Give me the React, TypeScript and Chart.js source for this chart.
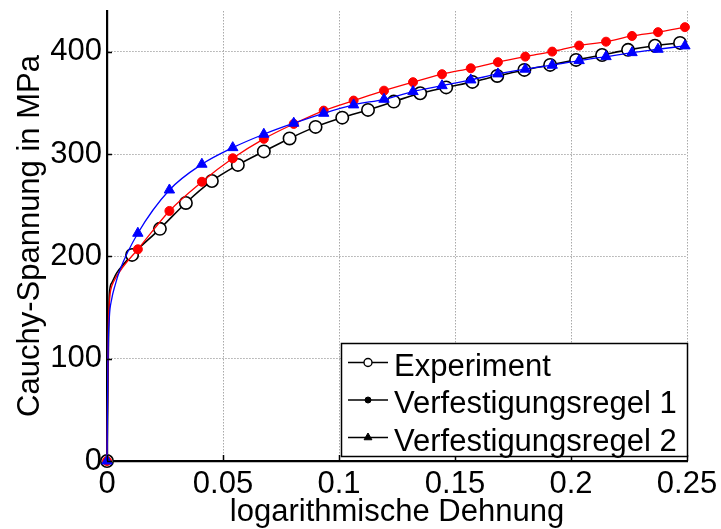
import { useEffect, useRef } from "react";
import { Chart, registerables } from "chart.js";

Chart.register(...registerables);

// Axis ticks
const strainTicks = [0, 0.05, 0.1, 0.15, 0.2, 0.25];
const stressTicks = [0, 100, 200, 300, 400];

// Experiment: marked measurement points (log. strain, Cauchy stress in MPa)
const expStrain = [0, 0.0108, 0.0228, 0.034, 0.0452, 0.0564, 0.0676, 0.0787, 0.0899, 0.1014, 0.1125, 0.1236, 0.135, 0.1462, 0.1575, 0.1682, 0.1799, 0.191, 0.2022, 0.2134, 0.2246, 0.2362, 0.247];
const expStress = [0, 201.5, 227, 252.3, 273.8, 289.5, 302.7, 315.4, 326.7, 335.7, 343.3, 351.4, 359.6, 365.3, 370.7, 376.5, 382.4, 387.3, 392.2, 397, 402, 406, 408.8];
// Experiment: yield transition (curve only, no markers)
const expKneeStrain = [0.0006, 0.001, 0.002, 0.0042, 0.007];
const expKneeStress = [110, 162, 174, 184, 192];

// Simulations share the same output increments
const simStrain = [0, 0.0133, 0.0269, 0.0409, 0.0542, 0.0676, 0.0805, 0.0934, 0.1063, 0.1194, 0.1319, 0.1444, 0.1568, 0.1685, 0.1803, 0.1919, 0.2035, 0.2151, 0.2263, 0.2375, 0.2491];
const rule1Stress = [0, 207, 244.5, 273, 296, 315, 329.6, 342.6, 352.4, 362.1, 370.4, 378.2, 384, 390, 395.4, 400.3, 406.2, 410, 415.6, 419.3, 424.2];
const rule2Stress = [0, 222.7, 265, 290.2, 306.4, 319.5, 330.3, 340, 348.2, 353.7, 361.2, 367, 372.6, 378.5, 383.1, 387, 391.5, 395.4, 399.3, 402.6, 405.9];
const rule1KneeStrain = [0.0005, 0.0012, 0.0016, 0.003, 0.007];
const rule1KneeStress = [120, 160, 167, 176, 190];
const rule2KneeStrain = [0.0004, 0.001, 0.002, 0.0035, 0.0056];
const rule2KneeStress = [100, 140, 158, 172, 187];

const seriesNames = ["Experiment", "Verfestigungsregel 1", "Verfestigungsregel 2"];

const FONT = '"Liberation Sans", Arial, Helvetica, sans-serif';
const FONT_SIZE = 31;

function buildSeries(mx: number[], my: number[], kx: number[], ky: number[]) {
  const pts = [
    ...mx.map((x, i) => ({ x, y: my[i], m: true })),
    ...kx.map((x, i) => ({ x, y: ky[i], m: false })),
  ];
  pts.sort((a, b) => a.x - b.x);
  return pts;
}

const styles = [
  { color: "#000000", fill: "#ffffff", style: "circle", radius: 6.2, border: 1.6, line: 1.6, legendR: 4 },
  { color: "#ff0000", fill: "#ff0000", style: "circle", radius: 4.5, border: 1, line: 1.3, legendR: 3 },
  { color: "#0000ff", fill: "#0000ff", style: "triangle", radius: 6, border: 1, line: 1.3, legendR: 4.5 },
];

function drawMarker(ctx: CanvasRenderingContext2D, s: any, x: number, y: number, r: number) {
  ctx.save();
  ctx.fillStyle = s.fill;
  ctx.strokeStyle = s.color;
  ctx.lineWidth = s.style === "circle" && s.fill === "#ffffff" ? 1.4 : 1;
  ctx.beginPath();
  if (s.style === "circle") {
    ctx.arc(x, y, r, 0, Math.PI * 2);
  } else {
    for (let k = 0; k < 3; k++) {
      const a = (k * 2 * Math.PI) / 3;
      const px = x + Math.sin(a) * r;
      const py = y - Math.cos(a) * r;
      if (k === 0) ctx.moveTo(px, py);
      else ctx.lineTo(px, py);
    }
    ctx.closePath();
  }
  ctx.fill();
  ctx.stroke();
  ctx.restore();
}

// Short tick marks pointing into the plot area
const innerTicks = {
  id: "innerTicks",
  afterDatasetsDraw(chart: any) {
    const { ctx, chartArea: a, scales } = chart;
    ctx.save();
    ctx.strokeStyle = "#000";
    ctx.lineWidth = 1.5;
    ctx.beginPath();
    for (const v of stressTicks) {
      const y = Math.round(scales.y.getPixelForValue(v)) + 0.5;
      ctx.moveTo(a.left, y);
      ctx.lineTo(a.left + 5, y);
    }
    for (const v of strainTicks) {
      const x = Math.round(scales.x.getPixelForValue(v)) + 0.5;
      ctx.moveTo(x, a.bottom);
      ctx.lineTo(x, a.bottom - 6);
    }
    ctx.stroke();
    ctx.restore();
  },
};

// Boxed legend in the lower right corner of the plot
const boxLegend = {
  id: "boxLegend",
  afterDraw(chart: any) {
    const { ctx, chartArea: a } = chart;
    const w = 346;
    const h = 113;
    const x0 = a.right - w;
    const y0 = a.bottom - 5 - h;
    ctx.save();
    ctx.fillStyle = "#ffffff";
    ctx.fillRect(x0, y0, w, h);
    ctx.strokeStyle = "#000";
    ctx.lineWidth = 1.5;
    ctx.strokeRect(x0 + 0.5, y0 + 0.5, w, h);
    ctx.font = `${FONT_SIZE}px ${FONT}`;
    ctx.textBaseline = "alphabetic";
    ctx.textAlign = "left";
    seriesNames.forEach((name, i) => {
      const s = styles[i];
      const cy = y0 + 19.5 + i * 37.5;
      ctx.strokeStyle = "#000";
      ctx.lineWidth = 1.3;
      ctx.beginPath();
      ctx.moveTo(x0 + 7, cy);
      ctx.lineTo(x0 + 47, cy);
      ctx.stroke();
      drawMarker(ctx, { ...s, color: "#000", fill: s.fill === "#ffffff" ? "#ffffff" : "#000" }, x0 + 27, cy, s.legendR);
      ctx.fillStyle = "#000";
      ctx.fillText(name, x0 + 53, cy + 13.2);
    });
    ctx.restore();
  },
};

export default function App() {
  const canvasRef = useRef<HTMLCanvasElement | null>(null);

  useEffect(() => {
    const canvas = canvasRef.current;
    if (!canvas) return;

    const data = [
      buildSeries(expStrain, expStress, expKneeStrain, expKneeStress),
      buildSeries(simStrain, rule1Stress, rule1KneeStrain, rule1KneeStress),
      buildSeries(simStrain, rule2Stress, rule2KneeStrain, rule2KneeStress),
    ];

    const datasets = data.map((pts, i) => {
      const s = styles[i];
      return {
        label: seriesNames[i],
        data: pts,
        borderColor: s.color,
        borderWidth: s.line,
        backgroundColor: s.fill,
        pointBackgroundColor: s.fill,
        pointBorderColor: s.color,
        pointBorderWidth: s.border,
        pointStyle: s.style,
        pointRadius: (c: any) => (c.raw && c.raw.m ? s.radius : 0),
        pointHoverRadius: (c: any) => (c.raw && c.raw.m ? s.radius : 0),
        cubicInterpolationMode: "monotone",
        fill: false,
        clip: false,
        order: 3 - i,
      };
    });

    const chart = new Chart(canvas, {
      type: "line",
      data: { datasets } as any,
      options: {
        animation: false,
        responsive: false,
        events: [],
        layout: { padding: { top: 11, right: 34, left: 0, bottom: 0 } },
        plugins: {
          legend: { display: false },
          tooltip: { enabled: false },
        },
        scales: {
          x: {
            type: "linear",
            min: 0,
            max: 0.25,
            afterBuildTicks: (s: any) => {
              s.ticks = strainTicks.map((v) => ({ value: v }));
            },
            afterFit: (s: any) => {
              s.height = 68;
              s.paddingLeft = 0;
              s.paddingRight = 0;
            },
            ticks: {
              font: { family: FONT, size: FONT_SIZE },
              color: "#000",
              padding: 5,
              maxRotation: 0,
              autoSkip: false,
              callback: (v: any) => String(v),
            },
            grid: { color: "#a9a9a9", lineWidth: 1, drawTicks: false },
            border: { display: true, color: "#000", width: 2.2, dash: [1.5, 1.5] },
            title: {
              display: true,
              text: "logarithmische Dehnung",
              font: { family: FONT, size: FONT_SIZE, lineHeight: 1 },
              color: "#000",
              padding: { top: 0, bottom: 1 },
            },
          },
          y: {
            type: "linear",
            min: 0,
            max: 440,
            afterBuildTicks: (s: any) => {
              s.ticks = stressTicks.map((v) => ({ value: v }));
            },
            afterFit: (s: any) => {
              s.width = 107;
              s.paddingTop = 0;
              s.paddingBottom = 0;
            },
            ticks: {
              font: { family: FONT, size: FONT_SIZE },
              color: "#000",
              padding: 5,
              callback: (v: any) => String(v),
            },
            grid: { color: "#a9a9a9", lineWidth: 1, drawTicks: false },
            border: { display: true, color: "#000", width: 2.2, dash: [1.5, 1.5] },
            title: {
              display: true,
              text: "Cauchy-Spannung in MPa",
              font: { family: FONT, size: FONT_SIZE, lineHeight: 1 },
              color: "#000",
              padding: { top: 15, bottom: 0 },
            },
          },
        },
      } as any,
      plugins: [innerTicks, boxLegend],
    });

    return () => chart.destroy();
  }, []);

  return (
    <div style={{ position: "fixed", left: 0, top: 0, width: 721, height: 529, background: "#fff" }}>
      <canvas ref={canvasRef} width={721} height={529} style={{ display: "block" }} />
    </div>
  );
}
